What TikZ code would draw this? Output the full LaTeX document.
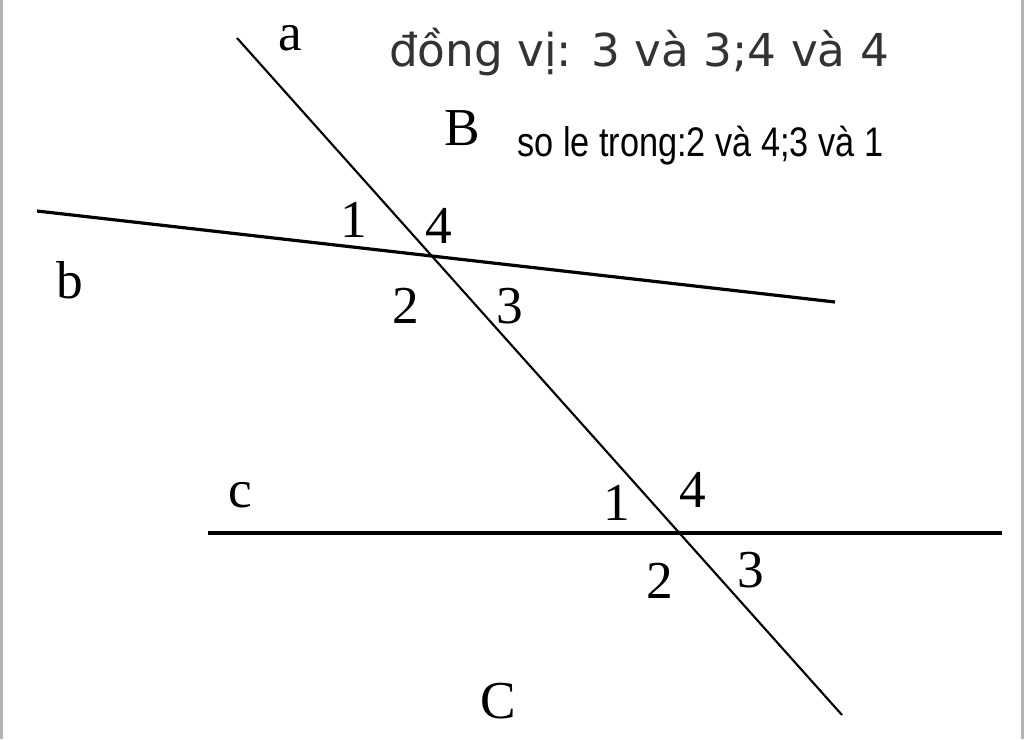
\documentclass[tikz,border=0pt]{standalone}
\usepackage{fontspec}
\setmainfont{Liberation Serif}
\newfontfamily\headfont{DejaVu Sans}
\newfontfamily\narrowfont{Liberation Sans}
\definecolor{headgray}{HTML}{333333}
\definecolor{edgegray}{HTML}{B4B4B4}
\begin{document}
\begin{tikzpicture}[x=0.75pt,y=-0.75pt,
  lbl/.style={anchor=base,inner sep=0pt,font=\fontsize{40}{40}\selectfont},
  thinline/.style={line width=1.6pt,black},
  thickline/.style={line width=2.4pt,black}]
\useasboundingbox (0,0) rectangle (1024,739);
\fill[white] (0,0) rectangle (1024,739);
\fill[edgegray] (0,0) rectangle (3,739);
\fill[edgegray] (1021,0) rectangle (1024,739);
% lines
\coordinate (a1) at (237,38);
\coordinate (a2) at (842,715);
\coordinate (b1) at (37,211);
\coordinate (b2) at (835,302);
\coordinate (c1) at (208,533);
\coordinate (c2) at (1002,533);
\draw[thinline] (a1) -- (a2);
\draw[thickline] (b1) -- (b2);
\draw[thickline] (c1) -- (c2);
% line labels
\node[lbl] (la) at (290,50) {a};
\node[lbl] (lb) at (70,298) {b};
\node[lbl] (lc) at (240,507) {c};
\node[lbl] (lB) at (462,145) {B};
\node[lbl] (lC) at (498,718) {C};
% angle labels at b
\node[lbl] (u1) at (354,237) {1};
\node[lbl] (u4) at (439,243) {4};
\node[lbl] (u2) at (406,323) {2};
\node[lbl] (u3) at (510,323) {3};
% angle labels at c
\node[lbl] (d1) at (617,520) {1};
\node[lbl] (d4) at (693,507) {4};
\node[lbl] (d2) at (660,598) {2};
\node[lbl] (d3) at (751,587) {3};
% texts
\node[anchor=base,inner sep=0pt,text=headgray,font=\headfont\fontsize{34}{34}\selectfont] (t1) at (639,66) {đồng vị: 3 và 3;4 và 4};
\node[anchor=base west,inner sep=0pt,font=\narrowfont\fontsize{31}{31}\selectfont] (t2) at (517,156) {\scalebox{0.83}[1]{so le trong:2 và 4;3 và 1}};
\end{tikzpicture}
\end{document}
